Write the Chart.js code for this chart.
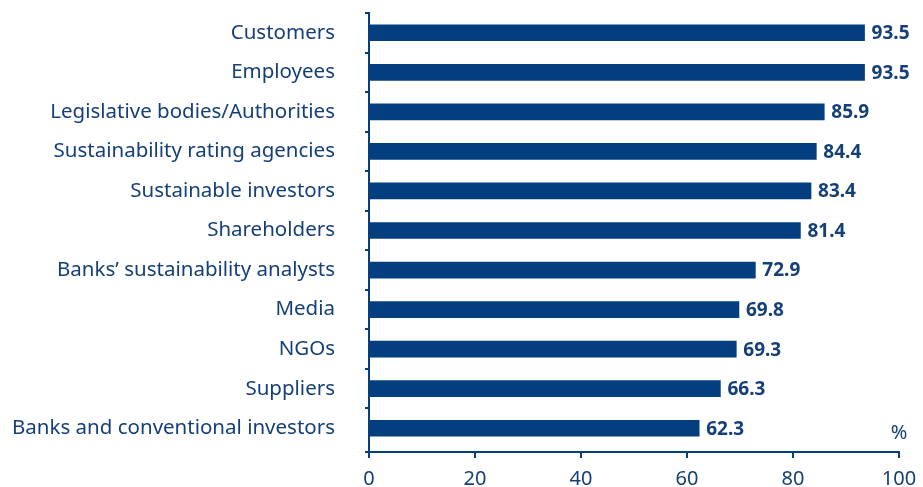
<!DOCTYPE html>
<html>
<head>
<meta charset="utf-8">
<script src="https://cdn.jsdelivr.net/npm/chart.js@4/dist/chart.umd.min.js"></script>
<style>
  html, body { margin: 0; padding: 0; background: #fff; }
  #wrap { width: 923px; height: 487px; position: relative; }
</style>
</head>
<body>
<div id="wrap"><canvas id="grafico"></canvas></div>
<script>
// datos
const categorias = ["Customers", "Employees", "Legislative bodies/Authorities", "Sustainability rating agencies",
  "Sustainable investors", "Shareholders", "Banks\u2019 sustainability analysts", "Media", "NGOs",
  "Suppliers", "Banks and conventional investors"];
const valores = [93.5, 93.5, 85.9, 84.4, 83.4, 81.4, 72.9, 69.8, 69.3, 66.3, 62.3];
const ticksX = [0, 20, 40, 60, 80, 100];
const unidad = "%";

const azul = "#033f7e";
const texto = "#143f78";
const fuente = "'Noto Sans', sans-serif";

/* ejes: el eje x queda 4px por debajo de la ultima categoria */
const ejes = {
  id: "ejes",
  afterLayout(chart) {
    const x = chart.scales.x;
    x.top += 4;
    x.bottom += 4;
  },
  afterDraw(chart) {
    const ctx = chart.ctx;
    const area = chart.chartArea;
    const x = chart.scales.x;
    ctx.save();
    ctx.strokeStyle = azul;
    ctx.lineWidth = 2;
    ctx.beginPath();
    // eje y
    ctx.moveTo(area.left, area.top - 1);
    ctx.lineTo(area.left, x.top + 5);
    // eje x
    ctx.moveTo(area.left - 4, x.top);
    ctx.lineTo(area.right + 1, x.top);
    ctx.stroke();
    ctx.restore();
  }
};

/* etiquetas de valor al final de cada barra + simbolo % */
const etiquetasValor = {
  id: "etiquetasValor",
  afterDatasetsDraw(chart) {
    const ctx = chart.ctx;
    const meta = chart.getDatasetMeta(0);
    ctx.save();
    ctx.fillStyle = texto;
    ctx.font = "bold 19px " + fuente;
    ctx.textAlign = "left";
    ctx.textBaseline = "middle";
    meta.data.forEach((bar, i) => {
      ctx.fillText(valores[i].toFixed(1), bar.x + 7, bar.y + 1);
    });
    // simbolo de unidad
    const area = chart.chartArea;
    const ultima = meta.data[meta.data.length - 1];
    ctx.font = "20px " + fuente;
    ctx.textAlign = "center";
    ctx.fillText(unidad, area.right, ultima.y + 5);
    ctx.restore();
  }
};

const ctx = document.getElementById("grafico");
const grafico = new Chart(ctx, {
  type: "bar",
  data: {
    labels: categorias,
    datasets: [{
      data: valores,
      backgroundColor: azul,
      borderWidth: 0,
      barThickness: 16
    }]
  },
  options: {
    indexAxis: "y",
    responsive: true,
    maintainAspectRatio: false,
    animation: false,
    layout: { padding: { top: 13, right: 24, bottom: 0, left: 0 } },
    plugins: { legend: { display: false }, tooltip: { enabled: false } },
    scales: {
      x: {
        min: 0,
        max: 100,
        afterBuildTicks(scale) { scale.ticks = ticksX.map(v => ({ value: v })); },
        afterFit(scale) {
          scale.height = 39;
          scale.paddingLeft = 0;
          scale.paddingRight = 0;
        },
        border: { display: false },
        grid: { drawOnChartArea: false, color: azul, lineWidth: 2, tickLength: 6 },
        ticks: { color: texto, font: { family: fuente, size: 20 }, padding: 9 }
      },
      y: {
        afterFit(scale) {
          scale.width = 369;
          scale.paddingTop = 0;
          scale.paddingBottom = 0;
        },
        border: { display: false },
        grid: {
          drawOnChartArea: false,
          lineWidth: 2,
          tickLength: 4,
          offset: true,
          color: (c) => (c.index === undefined ? "rgba(0,0,0,0)" : azul)
        },
        ticks: { color: texto, font: { family: fuente, size: 20.5 }, padding: 30 }
      }
    }
  },
  plugins: [ejes, etiquetasValor]
});
</script>
</body>
</html>
